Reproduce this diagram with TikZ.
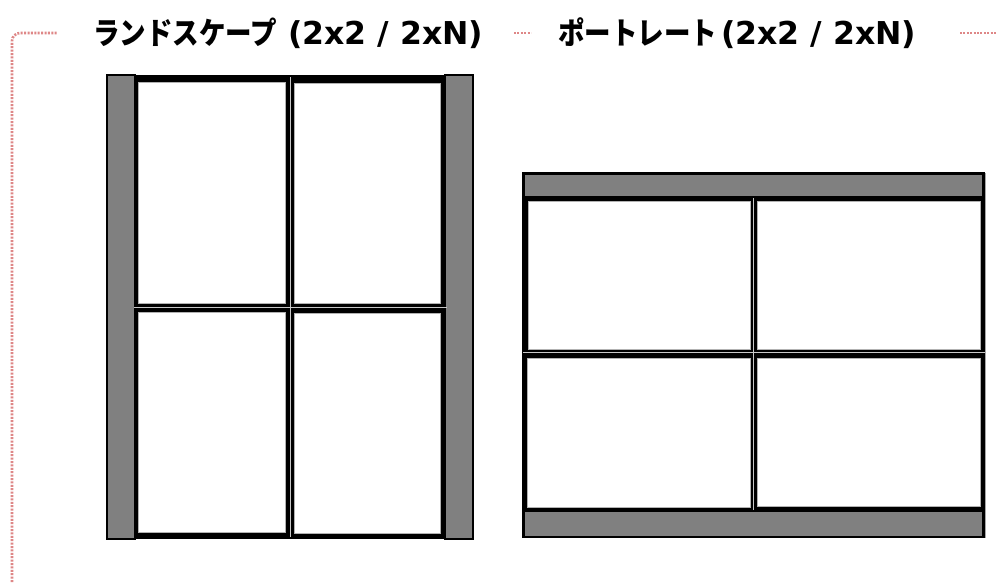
\documentclass[tikz,border=0pt]{standalone}
\usepackage{fontspec}
\usepackage{graphicx}
\newfontfamily\cjk{Noto Sans CJK JP}
\newfontfamily\latinf{DejaVu Sans}
\definecolor{framepink}{RGB}{222,135,135}
\definecolor{bargray}{RGB}{128,128,128}
\definecolor{divgray}{RGB}{200,200,200}
\tikzset{
  frameline/.style={draw=framepink, line width=2.6pt, dash pattern=on 2pt off 1.4pt},
  bar/.style={fill=bargray, draw=black, line width=1.6pt},
  cell/.style={fill=white, draw=gray!60, line width=0.7pt},
  divider/.style={draw=divgray, line width=1pt},
  titletext/.style={anchor=base west, inner sep=0pt},
}
\newcommand{\jtxt}[1]{\scalebox{1.02}[1.18]{\cjk\bfseries\fontsize{26}{30}\selectfont #1}}
\newcommand{\ltxt}[1]{{\latinf\bfseries\fontsize{31.5}{36}\selectfont #1}}
\begin{document}
\begin{tikzpicture}[x=1pt, y=-1pt]
\useasboundingbox (0,0) rectangle (997,582);
\fill[white] (0,0) rectangle (997,582);
% dotted frame
\coordinate (fb) at (12,582);
\coordinate (fc) at (12,33);
\coordinate (fe) at (58,33);
\draw[frameline, rounded corners=8pt] (fb) -- (fc) -- (fe);
\coordinate (m1) at (514,33);
\coordinate (m2) at (531,33);
\draw[frameline] (m1) -- (m2);
\coordinate (r1) at (960,33);
\coordinate (r2) at (997,33);
\draw[frameline] (r1) -- (r2);
% titles
\node[titletext] (t1) at (93,44) {\jtxt{ランドスケープ}\ltxt{\ (2x2 / 2xN)}};
\node[titletext] (t2) at (558,44) {\jtxt{ポートレート}\hspace{4pt}\ltxt{(2x2 / 2xN)}};
% landscape panel
\fill[black] (132,75) rectangle (448,539);
\draw[bar] (107,75) rectangle (135,539);
\draw[bar] (445,75) rectangle (473,539);
\draw[cell] (138,82) rectangle (285,303);
\draw[cell] (294,83) rectangle (440,303);
\draw[cell] (138,312) rectangle (285,532);
\draw[cell] (294,313) rectangle (440,533);
\draw[divider] (290,77) -- (290,537);
\draw[divider] (134,307) -- (447,307);
% portrait panel
\fill[black] (522,172) rectangle (985,538);
\draw[bar] (524,174) rectangle (983,197);
\draw[bar] (524,511) rectangle (983,537);
\draw[cell] (528,201) rectangle (750,349);
\draw[cell] (757,201) rectangle (980,349);
\draw[cell] (527,358) rectangle (750,507);
\draw[cell] (757,358) rectangle (980,506);
\draw[divider] (753,198) -- (753,510);
\draw[divider] (523,352) -- (985,352);
\draw[divider, draw=gray!70, line width=0.8pt] (985.5,173) -- (985.5,538);
\end{tikzpicture}
\end{document}
